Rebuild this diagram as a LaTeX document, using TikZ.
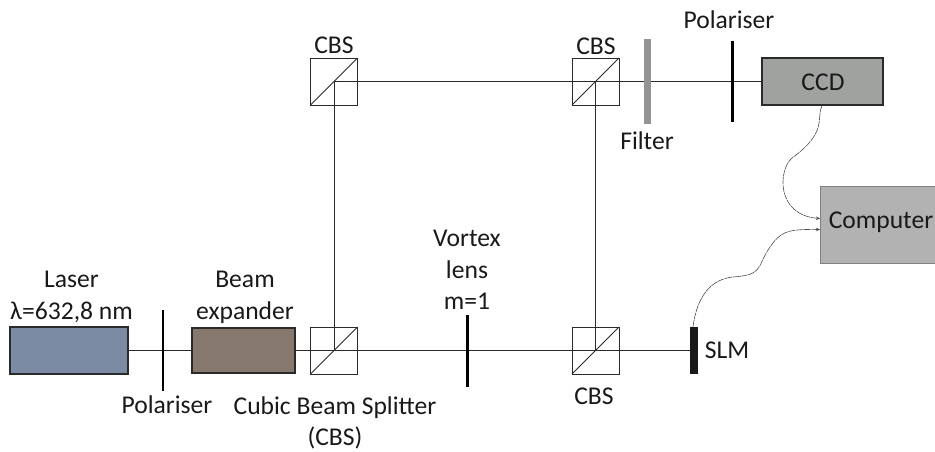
\documentclass[tikz,border=0pt]{standalone}
\usepackage{fontspec}
\setmainfont{Carlito}
\usetikzlibrary{backgrounds,arrows.meta}
\definecolor{lasercol}{HTML}{7A8BA3}
\definecolor{expcol}{HTML}{87786E}
\definecolor{ccdcol}{HTML}{A0A2A0}
\definecolor{compcol}{HTML}{B2B2B2}
\definecolor{filtcol}{HTML}{949494}
\definecolor{linecol}{HTML}{2A2A2A}
\tikzset{
  x=1pt,y=-1pt,
  device/.style={draw=linecol,line width=1.1pt,inner sep=0pt,outer sep=0pt},
  cube/.style={draw=linecol,line width=1pt,minimum width=47pt,minimum height=47pt,inner sep=0pt,outer sep=0pt},
  diag/.style={draw=linecol,line width=0.9pt},
  beam/.style={draw=linecol,line width=0.9pt},
  plate/.style={fill=black,inner sep=0pt,outer sep=0pt,minimum width=#1},
  lbl/.style={font=\fontsize{25.6}{31.5}\selectfont,align=center,inner sep=0pt,text=black!90},
  wire/.style={draw=black!70,line width=0.6pt,dash pattern=on 7pt off 0.7pt,-{Stealth[length=4pt,width=3.5pt]}},
}
\begin{document}
\begin{tikzpicture}
\useasboundingbox (0,0) rectangle (935,451);
% devices
\node[device,fill=lasercol,minimum width=118pt,minimum height=47pt] (laser) at (69,350.5) {};
\node[device,fill=expcol,minimum width=103pt,minimum height=45pt] (expander) at (243.5,350.5) {};
\node[device,fill=ccdcol,minimum width=121pt,minimum height=47pt] (ccd) at (822.5,81.5) {};
\node[draw=black!50,line width=0.8pt,fill=compcol,inner sep=0pt,outer sep=0pt,minimum width=116pt,minimum height=77pt] (computer) at (878,224.5) {};
\node[cube] (cbsa) at (334,350.5) {};
\node[cube] (cbsb) at (334,81.5) {};
\node[cube] (cbsc) at (595.5,81.5) {};
\node[cube] (cbsd) at (595.5,350.5) {};
\node[plate=2pt,minimum height=81pt] (pola) at (163,350.5) {};
\node[plate=3pt,minimum height=72pt] (vortex) at (467,350.5) {};
\node[plate=8pt,minimum height=47pt,fill=black!90] (slm) at (694,350.5) {};
\node[plate=7.5pt,minimum height=85pt,fill=filtcol] (filter) at (647.5,81.5) {};
\node[plate=3pt,minimum height=81pt] (polb) at (732,81.5) {};
% beams
\begin{scope}[on background layer]
\draw[beam] (laser.east) -- (expander.west);
\draw[beam] (expander.east) -- (cbsa.center) -- (vortex.center) -- (cbsd.center) -- (slm.west);
\draw[beam] (cbsa.center) -- (cbsb.center);
\draw[beam] (cbsb.center) -- (cbsc.center) -- (filter.center) -- (polb.center) -- (ccd.west);
\draw[beam] (cbsd.center) -- (cbsc.center);
\end{scope}
% diagonals
\foreach \c in {cbsa,cbsb,cbsc,cbsd}
  \draw[diag] (\c.south west) -- (\c.north east);
% wires
\coordinate (ccdout) at (822,105.5);
\coordinate (slmout) at (693,327);
\coordinate (compa) at (820,218.5);
\coordinate (compb) at (820,229.5);
\draw[wire] (ccdout) .. controls (816,118) and (828,132) .. (792,158)
  .. controls (778,170) and (776,215) .. (compa);
\draw[wire] (slmout) .. controls (697,295) and (712,279) .. (733,277)
  .. controls (762,275) and (757,268) .. (768,250)
  .. controls (780,232) and (785,229) .. (compb);
% labels
\node[lbl] (tlaser) at (71.5,297) {Laser\\λ=632,8 nm};
\node[lbl] (texp) at (245,297.5) {Beam\\expander};
\node[lbl] (tpola) at (167,405) {Polariser};
\node[lbl] (tcube) at (335,423) {Cubic Beam Splitter\\(CBS)};
\node[lbl] (tvortex) at (467,270) {Vortex\\lens\\m=1};
\node[lbl] (tcbsd) at (594,396) {CBS};
\node[lbl] (tcbsb) at (334,45) {CBS};
\node[lbl] (tcbsc) at (596,46) {CBS};
\node[lbl] (tfilter) at (647,141) {Filter};
\node[lbl] (tpolb) at (729,20) {Polariser};
\node[lbl] (tslm) at (727,350) {SLM};
\node[lbl] (tccd) at (823,82) {CCD};
\node[lbl] (tcomp) at (881,222) {Computer};
\end{tikzpicture}
\end{document}
